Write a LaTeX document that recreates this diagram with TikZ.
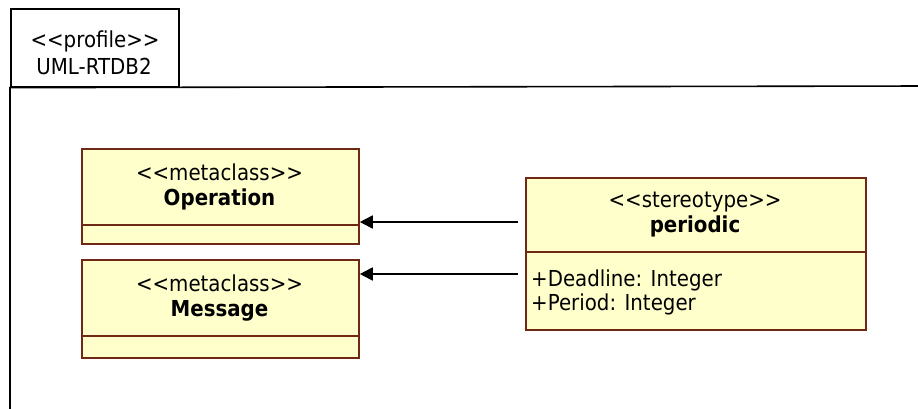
\documentclass[tikz,border=0pt]{standalone}
\usepackage{fontspec}
\setmainfont{DejaVu Sans}[FakeStretch=0.9, Ligatures=TeXOff]
\usetikzlibrary{arrows.meta}
\definecolor{clsfill}{RGB}{255,255,204}
\definecolor{clsdraw}{RGB}{110,40,20}
\tikzset{
  cls/.style={draw=clsdraw, fill=clsfill, line width=1.8pt, anchor=north west, inner sep=0pt},
  divider/.style={draw=clsdraw, line width=1.8pt},
  frame/.style={draw=black, line width=1.6pt},
  txt/.style={anchor=base, inner sep=0pt, font=\fontsize{22}{26}\selectfont},
  btxt/.style={txt, font=\fontsize{22}{26}\selectfont\bfseries},
  ltxt/.style={anchor=base west, inner sep=0pt, font=\fontsize{22}{26}\selectfont},
  ext/.style={-{Triangle[length=13pt,width=13pt]}, line width=1.8pt, draw=black}
}
\begin{document}
\begin{tikzpicture}[x=1pt,y=-1pt]
\useasboundingbox (0,0) rectangle (918,409);
% package frame
\node[draw=black, line width=1.6pt, anchor=north west, minimum width=168pt, minimum height=78pt, inner sep=0pt] (tab) at (10,8) {};
\coordinate (frTR) at (930,86);
\coordinate (frBL) at (10,420);
\draw[frame] (frBL) -- (tab.south west) -- (frTR);
\node[txt] (ptag) at (95,48) {<<profile>>};
\node[txt] (pname) at (94,75) {UML-RTDB2};
% Operation
\node[cls, minimum width=277pt, minimum height=95pt] (op) at (81,148) {};
\draw[divider] (op.west |- 0,225) -- (op.east |- 0,225);
\node[txt] (opst) at (219.5,180) {<<metaclass>>};
\node[btxt] (opname) at (219.5,205) {Operation};
% Message
\node[cls, minimum width=277pt, minimum height=98pt] (msg) at (81,259) {};
\draw[divider] (msg.west |- 0,336) -- (msg.east |- 0,336);
\node[txt] (msgst) at (219.5,291) {<<metaclass>>};
\node[btxt] (msgname) at (219.5,316) {Message};
% periodic
\node[cls, minimum width=340pt, minimum height=152pt] (per) at (525,177) {};
\draw[divider] (per.west |- 0,252) -- (per.east |- 0,252);
\node[txt] (perst) at (695,207) {<<stereotype>>};
\node[btxt] (pername) at (695,232) {periodic};
\node[ltxt] (attr1) at (531,286) {+Deadline: Integer};
\node[ltxt] (attr2) at (531,310) {+Period: Integer};
% extensions
\draw[ext, shorten <=7pt] (per.west |- 0,222) -- (op.east |- 0,222);
\draw[ext, shorten <=7pt] (per.west |- 0,274) -- (msg.east |- 0,274);
\end{tikzpicture}
\end{document}
